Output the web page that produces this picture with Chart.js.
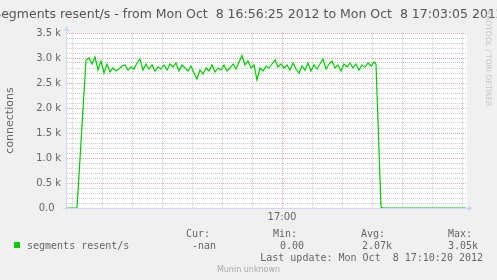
<!DOCTYPE html>
<html>
<head>
<meta charset="utf-8">
<script src="https://cdn.jsdelivr.net/npm/chart.js@4.4.0/dist/chart.umd.min.js"></script>
<style>
  html, body { margin: 0; padding: 0; background: #f0f0f0; }
  canvas { display: block; }
</style>
</head>
<body>
<canvas id="graph" width="497" height="280"></canvas>
<script>
// Munin — segments resent/s

const graphTitle = 'Segments resent/s - from Mon Oct  8 16:56:25 2012 to Mon Oct  8 17:03:05 2012';
const startClock = 16 * 3600 + 56 * 60 + 25; // 16:56:25
const spanSecs = 400;

// seconds since start
const secs = [
  0, 10,
  19, 22, 25, 28, 31, 34, 37, 40, 43, 46,
  49, 52, 55, 58, 61, 64, 67, 70, 73, 76,
  79, 82, 85, 88, 91, 94, 97, 100, 103, 106,
  109, 112, 115, 118, 121, 124, 127, 130, 133, 136,
  139, 142, 145, 148, 151, 154, 157, 160, 163, 166,
  169, 172, 175, 178, 181, 184, 187, 190, 193, 196,
  199, 202, 205, 208, 211, 214, 217, 220, 223, 226,
  229, 232, 235, 238, 241, 244, 247, 250, 253, 256,
  259, 262, 265, 268, 271, 274, 277, 280, 283, 286,
  289, 292, 295, 298, 301, 304, 307,
  309, 314, 316, 399
];

const resent = [
  0, 0,
  2960, 3000, 2880, 3020, 2760, 2940, 2700, 2880, 2720, 2800,
  2740, 2780, 2840, 2860, 2760, 2820, 2780, 2900, 2980, 2760,
  2880, 2780, 2860, 2740, 2820, 2780, 2860, 2760, 2880, 2820,
  2900, 2740, 2860, 2800, 2740, 2840, 2700, 2580, 2760, 2680,
  2800, 2740, 2860, 2720, 2800, 2760, 2860, 2740, 2800, 2880,
  2780, 2920, 3050, 2860, 2940, 2800, 2860, 2560, 2800, 2740,
  2840, 2800, 2880, 2960, 2820, 2880, 2800, 2860, 2760, 2900,
  2780, 2700, 2840, 2760, 2900, 2740, 2860, 2780, 2880, 2980,
  2780, 2880, 2940, 2800, 2860, 2740, 2880, 2820, 2900, 2800,
  2880, 2760, 2860, 2820, 2900, 2840, 2920,
  2880, 20, 0, 0
];

// vertical grid every 30 s (16:56:30 ... 17:03:00)
const gridSecs = [5, 35, 65, 95, 125, 155, 185, 215, 245, 275, 305, 335, 365, 395];

const legendCols = ['Cur:', 'Min:', 'Avg:', 'Max:'];
const legendVals = ['-nan', '0.00', '2.07k', '3.05k'];
const lastUpdate = 'Last update: Mon Oct  8 17:10:20 2012';

const GREEN = '#00cc00';
const FONT = '#666666';
const AXIS = '#cfd6f8';

function clockOf(t) {
  const c = startClock + t;
  return { h: Math.floor(c / 3600), m: Math.floor(c / 60) % 60, s: c % 60 };
}

const muninDecor = {
  id: 'muninDecor',
  beforeDraw(chart) {
    const { ctx, chartArea: a } = chart;
    ctx.save();
    ctx.fillStyle = '#f0f0f0';
    ctx.fillRect(0, 0, chart.width, chart.height);
    ctx.fillStyle = '#ffffff';
    ctx.fillRect(a.left, a.top, a.right - a.left, a.bottom - a.top);
    ctx.restore();
  },
  beforeDatasetsDraw(chart) {
    const { ctx, chartArea: a } = chart;
    ctx.save();
    ctx.strokeStyle = AXIS;
    ctx.fillStyle = AXIS;
    ctx.lineWidth = 1;
    ctx.beginPath();
    ctx.moveTo(a.left - 0.5, a.bottom + 3);
    ctx.lineTo(a.left - 0.5, a.top - 3);
    ctx.moveTo(a.left - 4, a.bottom + 0.5);
    ctx.lineTo(a.right + 2, a.bottom + 0.5);
    ctx.stroke();
    // arrows
    ctx.beginPath();
    ctx.moveTo(a.left - 3.5, a.top - 2);
    ctx.lineTo(a.left + 2.5, a.top - 2);
    ctx.lineTo(a.left - 0.5, a.top - 7);
    ctx.fill();
    ctx.beginPath();
    ctx.moveTo(a.right + 1, a.bottom - 2.5);
    ctx.lineTo(a.right + 1, a.bottom + 3.5);
    ctx.lineTo(a.right + 6, a.bottom + 0.5);
    ctx.fill();
    ctx.restore();
  },
  afterDraw(chart) {
    const { ctx } = chart;
    ctx.save();
    ctx.fillStyle = '#555555';
    ctx.font = '12.5px "DejaVu Sans"';
    ctx.textAlign = 'center';
    ctx.fillText(graphTitle, 248.5, 18);

    // legend
    ctx.fillStyle = GREEN;
    ctx.fillRect(14, 242, 6, 6);
    ctx.fillStyle = FONT;
    ctx.font = '10px "DejaVu Sans Mono"';
    ctx.textAlign = 'left';
    ctx.fillText('segments resent/s', 27, 249);
    const colX = [186, 273, 361, 448];
    const valX = [192, 280, 362, 448];
    legendCols.forEach((c, i) => ctx.fillText(c, colX[i], 237));
    legendVals.forEach((v, i) => ctx.fillText(v, valX[i], 249));
    ctx.textAlign = 'right';
    ctx.fillText(lastUpdate, 483, 261);

    ctx.fillStyle = '#aaaaaa';
    ctx.font = '8px "DejaVu Sans"';
    ctx.textAlign = 'center';
    ctx.fillText('Munin unknown', 248.5, 271.5);

    ctx.fillStyle = '#c4c4c4';
    ctx.font = '7.5px "DejaVu Sans"';
    ctx.translate(486, 10);
    ctx.rotate(Math.PI / 2);
    ctx.textAlign = 'left';
    ctx.fillText('RRDTOOL / TOBI OETIKER', 0, 0);
    ctx.restore();
  }
};

new Chart(document.getElementById('graph'), {
  type: 'line',
  data: {
    datasets: [{
      data: secs.map((t, i) => ({ x: t, y: resent[i] })),
      borderColor: GREEN,
      borderWidth: 1.2,
      pointRadius: 0,
      tension: 0,
      fill: false
    }]
  },
  options: {
    responsive: false,
    devicePixelRatio: 1,
    animation: false,
    events: [],
    layout: { padding: { left: 0, right: 30, top: 33, bottom: 0 } },
    plugins: { legend: { display: false }, tooltip: { enabled: false } },
    scales: {
      x: {
        type: 'linear',
        min: 0,
        max: spanSecs,
        afterBuildTicks: s => { s.ticks = gridSecs.map(v => ({ value: v })); },
        afterFit: s => { s.height = 72; },
        border: { display: false, dash: [1, 1] },
        grid: {
          drawTicks: false,
          color: c => (c.tick && clockOf(c.tick.value).m % 5 === 0 && clockOf(c.tick.value).s === 0) ? '#e8a8a8' : '#cccccc'
        },
        ticks: {
          autoSkip: false,
          maxRotation: 0,
          padding: 3,
          color: FONT,
          font: { family: 'DejaVu Sans', size: 10 },
          callback: v => {
            const c = clockOf(v);
            if (c.s !== 0 || c.m % 5 !== 0) return '';
            return String(c.h).padStart(2, '0') + ':' + String(c.m).padStart(2, '0');
          }
        }
      },
      y: {
        min: 0,
        max: 3500,
        afterFit: s => { s.width = 67; },
        border: { display: false, dash: [1, 1] },
        grid: {
          drawTicks: false,
          color: c => (c.tick && c.tick.value % 500 === 0) ? '#e8a8a8' : '#cccccc'
        },
        title: {
          display: true,
          text: 'connections',
          color: FONT,
          font: { family: 'DejaVu Sans', size: 11 },
          padding: { top: 4, bottom: 0 }
        },
        ticks: {
          stepSize: 100,
          autoSkip: false,
          padding: 6,
          color: FONT,
          font: { family: 'DejaVu Sans', size: 10 },
          callback: v => {
            if (v % 500 !== 0) return '';
            return v === 0 ? '0.0  ' : (v / 1000).toFixed(1) + ' k';
          }
        }
      }
    }
  },
  plugins: [muninDecor]
});
</script>
</body>
</html>
